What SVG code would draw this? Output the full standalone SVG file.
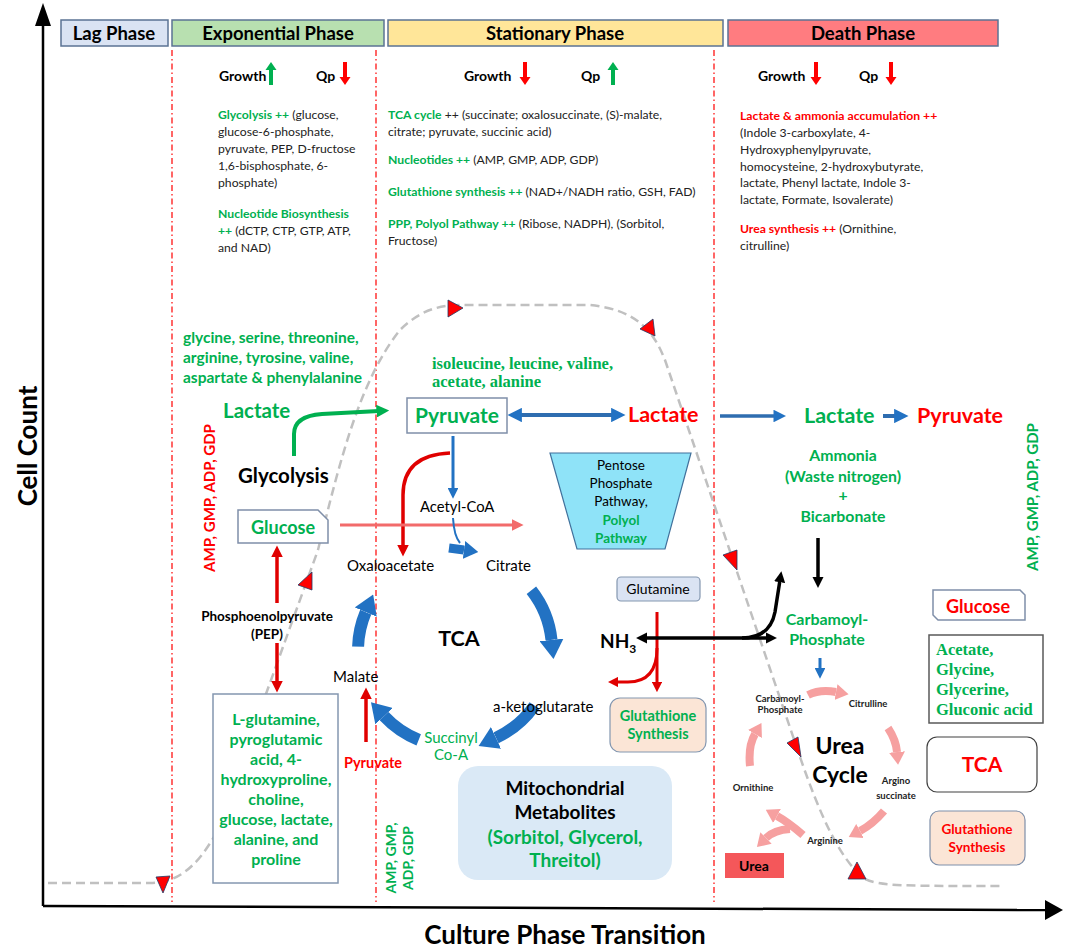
<svg xmlns="http://www.w3.org/2000/svg" width="1065" height="948" viewBox="0 0 1065 948" style="font-family:Lato,'Liberation Sans',sans-serif">
<style>
.ph{font-size:12.2px;fill:#222}
.b{font-weight:bold}
.g{fill:#00b050}
.r{fill:#ff0000}
.k{fill:#000}
.s{font-family:'Liberation Serif','Times New Roman',serif;font-weight:bold;fill:#00b050}
.hdr{stroke:#5b7394;stroke-width:1.5}
.ht{font-size:18.5px;font-weight:bold;text-anchor:middle}
.vl{stroke:#ff0000;stroke-width:1.2;stroke-dasharray:6 3 1.5 3;fill:none}
.curve{fill:none;stroke:#c0c0c0;stroke-width:2.5;stroke-dasharray:9 5}
.tri{fill:#ff0000;stroke:#1f3864;stroke-width:0.8}
.tca{fill:none;stroke:#2272c3;stroke-width:12}
.urea{fill:none;stroke:#f6a0a0;stroke-width:8}
.uc{font-size:9.5px;font-weight:bold;fill:#222;text-anchor:middle}
.c{text-anchor:middle}
.gr{font-size:14px;font-weight:bold}
</style>
<defs>
<marker id="mR" viewBox="0 0 10 10" refX="2" refY="5" markerWidth="3.4" markerHeight="3.4" orient="auto-start-reverse"><path d="M0,0 L10,5 L0,10 z" fill="#e00000"/></marker>
<marker id="mS" viewBox="0 0 10 10" refX="2" refY="5" markerWidth="4" markerHeight="4" orient="auto"><path d="M0,0 L10,5 L0,10 z" fill="#f26b6b"/></marker>
<marker id="mG" viewBox="0 0 10 10" refX="2" refY="5" markerWidth="3.2" markerHeight="3.2" orient="auto"><path d="M0,0 L10,5 L0,10 z" fill="#00b050"/></marker>
<marker id="mB" viewBox="0 0 10 10" refX="2" refY="5" markerWidth="3.6" markerHeight="3.6" orient="auto-start-reverse"><path d="M0,0 L10,5 L0,10 z" fill="#2272c3"/></marker>
<marker id="mK" viewBox="0 0 10 10" refX="2" refY="5" markerWidth="3.2" markerHeight="3.2" orient="auto-start-reverse"><path d="M0,0 L10,5 L0,10 z" fill="#000"/></marker>
<marker id="mT" viewBox="0 0 8 10" refX="0" refY="5" markerWidth="1.6" markerHeight="2" orient="auto"><path d="M0,0 L8,5 L0,10 z" fill="#2272c3"/></marker>
<marker id="mP" viewBox="0 0 8 10" refX="0" refY="5" markerWidth="1.6" markerHeight="2.1" orient="auto"><path d="M0,0 L8,5 L0,10 z" fill="#f6a0a0"/></marker>
<path id="aDn" d="M-2,0 H2 V15 H5.5 L0,23 L-5.5,15 H-2 Z"/>
<path id="aUp" d="M-2,23 H2 V8 H5.5 L0,0 L-5.5,8 H-2 Z"/>
</defs>
<rect width="1065" height="948" fill="#fff"/>

<g id="axes">
<line x1="43" y1="906" x2="43" y2="22" stroke="#000" stroke-width="2.5"/>
<polygon points="35,26 43,3 51,26" fill="#000"/>
<line x1="43" y1="906" x2="1046" y2="910" stroke="#000" stroke-width="2.5"/>
<polygon points="1045,900 1063,910 1045,920" fill="#000"/>
<text class="b" font-size="26" transform="translate(37,446) rotate(-90)" text-anchor="middle">Cell Count</text>
<text class="b c" font-size="26" x="565" y="944">Culture Phase Transition</text>
</g>

<g id="phase-lines">
<line class="vl" x1="172" y1="50" x2="172" y2="902"/>
<line class="vl" x1="376" y1="50" x2="376" y2="902"/>
<line class="vl" x1="714" y1="50" x2="714" y2="902"/>
</g>

<g id="headers">
<rect class="hdr" x="61" y="20" width="107" height="26" fill="#dae3f3"/>
<text class="ht" x="114" y="39.5">Lag Phase</text>
<rect class="hdr" x="172" y="20" width="212" height="26" fill="#b8e0b0"/>
<text class="ht" x="278" y="39.5">Exponential Phase</text>
<rect class="hdr" x="388" y="20" width="335" height="26" fill="#ffe699"/>
<text class="ht" x="555" y="39.5">Stationary Phase</text>
<rect class="hdr" x="728" y="20" width="270" height="26" fill="#ff7c80"/>
<text class="ht" x="863" y="39.5">Death Phase</text>
</g>

<g id="exp-text">
<text class="gr" x="219" y="81">Growth</text>
<use href="#aUp" x="271" y="62" fill="#00b050"/>
<text class="gr" x="316" y="81">Qp</text>
<use href="#aDn" x="345" y="62" fill="#ff0000"/>
<text class="ph" x="218" y="119"><tspan class="b g">Glycolysis ++</tspan> (glucose,</text>
<text class="ph" x="218" y="136">glucose-6-phosphate,</text>
<text class="ph" x="218" y="153">pyruvate, PEP, D-fructose</text>
<text class="ph" x="218" y="170">1,6-bisphosphate,  6-</text>
<text class="ph" x="218" y="187">phosphate)</text>
<text class="ph b g" x="218" y="218">Nucleotide Biosynthesis</text>
<text class="ph" x="218" y="235"><tspan class="b g">++</tspan> (dCTP, CTP, GTP, ATP,</text>
<text class="ph" x="218" y="252">and NAD)</text>
</g>

<g id="stat-text">
<text class="gr" x="464" y="81">Growth</text>
<use href="#aDn" x="525" y="62" fill="#ff0000"/>
<text class="gr" x="581" y="81">Qp</text>
<use href="#aUp" x="613" y="62" fill="#00b050"/>
<text class="ph" x="388" y="119"><tspan class="b g">TCA cycle</tspan> ++ (succinate; oxalosuccinate, (S)-malate,</text>
<text class="ph" x="388" y="136">citrate; pyruvate, succinic acid)</text>
<text class="ph" x="388" y="164"><tspan class="b g">Nucleotides ++</tspan>  (AMP, GMP, ADP, GDP)</text>
<text class="ph" x="388" y="196"><tspan class="b g">Glutathione synthesis ++</tspan> (NAD+/NADH  ratio, GSH, FAD)</text>
<text class="ph" x="388" y="228"><tspan class="b g">PPP, Polyol Pathway ++</tspan> (Ribose, NADPH), (Sorbitol,</text>
<text class="ph" x="388" y="245">Fructose)</text>
</g>

<g id="death-text">
<text class="gr" x="758" y="81">Growth</text>
<use href="#aDn" x="816" y="62" fill="#ff0000"/>
<text class="gr" x="859" y="81">Qp</text>
<use href="#aDn" x="891" y="62" fill="#ff0000"/>
<text class="ph b r" x="740" y="120">Lactate &amp; ammonia accumulation ++</text>
<text class="ph" x="740" y="137">(Indole 3-carboxylate, 4-</text>
<text class="ph" x="740" y="154">Hydroxyphenylpyruvate,</text>
<text class="ph" x="740" y="171">homocysteine,  2-hydroxybutyrate,</text>
<text class="ph" x="740" y="187">lactate, Phenyl lactate, Indole 3-</text>
<text class="ph" x="740" y="204">lactate, Formate, Isovalerate)</text>
<text class="ph" x="740" y="233"><tspan class="b r">Urea synthesis ++</tspan> (Ornithine,</text>
<text class="ph" x="740" y="250">citrulline)</text>
</g>

<g id="growth-curve">
<path class="curve" d="M48 883 L150 883 C175 883 195 870 215 835 L318 550 C340 460 360 380 400 330 C420 310 440 305 460 305 L590 305 C640 310 655 335 665 360 L800 757 C820 815 840 860 865 879 C880 886 900 886 1003 886"/>
<polygon class="tri" points="156,877 170,876 163,893"/>
<polygon class="tri" points="312,572 312,590 298,585"/>
<polygon class="tri" points="448,300 448,317 463,308"/>
<polygon class="tri" points="640,329 653,319 655,336"/>
<polygon class="tri" points="723,555 737,550 737,570"/>
<polygon class="tri" points="787,743 798,737 801,757"/>
<polygon class="tri" points="848,879 857,862 866,879"/>
</g>

<g id="connectors">
<path d="M294 456 L294 434 Q294 416 322 414 L379 411" fill="none" stroke="#00b050" stroke-width="4" marker-end="url(#mG)"/>
<line x1="519" y1="415" x2="614" y2="415" stroke="#2e6db0" stroke-width="4" marker-start="url(#mB)" marker-end="url(#mB)"/>
<line x1="720" y1="416" x2="776" y2="416" stroke="#2e6db0" stroke-width="3.5" marker-end="url(#mB)"/>
<line x1="883" y1="416" x2="897" y2="416" stroke="#2e6db0" stroke-width="4" marker-end="url(#mB)"/>
<line x1="453" y1="436" x2="453" y2="490" stroke="#2272c3" stroke-width="3" marker-end="url(#mB)"/>
<path d="M450 453 Q403 455 403 495 L403 547" fill="none" stroke="#e00000" stroke-width="3.5" marker-end="url(#mR)"/>
<line x1="340" y1="525" x2="514" y2="525" stroke="#f26b6b" stroke-width="3" marker-end="url(#mS)"/>
<path d="M453 518 Q454 536 460 543" fill="none" stroke="#2272c3" stroke-width="2"/>
<path d="M449 548 L464 550" fill="none" stroke="#2272c3" stroke-width="9" marker-end="url(#mT)"/>
<path class="tca" d="M531.4 590.2 A97 97 0 0 1 551.5 639.9" marker-end="url(#mT)"/>
<path class="tca" d="M534.5 705.6 A97 97 0 0 1 496 737.9" marker-end="url(#mT)"/>
<path class="tca" d="M418.7 739.9 A97 97 0 0 1 384.1 716.2" marker-end="url(#mT)"/>
<path class="tca" d="M358.1 646.6 A97 97 0 0 1 365.7 612.1" marker-end="url(#mT)"/>
<line x1="277" y1="603" x2="277" y2="555" stroke="#e00000" stroke-width="3.5" marker-end="url(#mR)"/>
<line x1="277" y1="643" x2="277" y2="683" stroke="#e00000" stroke-width="3.5" marker-end="url(#mR)"/>
<line x1="366" y1="742" x2="366" y2="697" stroke="#e00000" stroke-width="3.5" marker-end="url(#mR)"/>
<line x1="657" y1="612" x2="657" y2="684" stroke="#e00000" stroke-width="3" marker-end="url(#mR)"/>
<path d="M657 648 Q657 682 628 682 L616 682" fill="none" stroke="#e00000" stroke-width="3" marker-end="url(#mR)"/>
<line x1="645" y1="638" x2="768" y2="638" stroke="#000" stroke-width="3.5" marker-start="url(#mK)" marker-end="url(#mK)"/>
<path d="M742 638 Q770 638 775 612 L780 580" fill="none" stroke="#000" stroke-width="3.5" marker-end="url(#mK)"/>
<line x1="818" y1="538" x2="818" y2="579" stroke="#000" stroke-width="3.5" marker-end="url(#mK)"/>
<line x1="820" y1="658" x2="820" y2="670" stroke="#2272c3" stroke-width="3" marker-end="url(#mB)"/>
<path class="urea" d="M808 695 Q820 689 836 692" marker-end="url(#mP)"/>
<path class="urea" d="M888 728 Q896 740 897 752" marker-end="url(#mP)"/>
<path class="urea" d="M884 811 Q873 824 860 831" marker-end="url(#mP)"/>
<path class="urea" d="M803 835 Q788 822 777 816" marker-end="url(#mP)"/>
<path class="urea" d="M790 829 Q774 830 766 838" marker-end="url(#mP)"/>
<path class="urea" d="M750 766 Q748 746 755 734" marker-end="url(#mP)"/>
</g>

<g id="amino-exp">
<text class="b g" font-size="15.5" x="183" y="343">glycine, serine, threonine,</text>
<text class="b g" font-size="15.5" x="183" y="363">arginine, tyrosine, valine,</text>
<text class="b g" font-size="15.5" x="183" y="383">aspartate &amp; phenylalanine</text>
</g>
<g id="lactate-left"><text class="b g" font-size="20.5" x="223" y="418">Lactate</text></g>
<g id="glycolysis"><text class="b k" font-size="20.5" x="238" y="483">Glycolysis</text></g>
<g id="glucose-left">
<path d="M238 510 H318 L328 520 V543 H238 Z" fill="#fff" stroke="#7f8fa9" stroke-width="1.5"/>
<text class="b g c" font-size="18" x="283" y="534">Glucose</text>
</g>
<g id="amp-left"><text class="b r c" font-size="15" transform="translate(215,498) rotate(-90)">AMP, GMP, ADP, GDP</text></g>
<g id="pep">
<text class="b k c" font-size="13.5" x="267" y="621">Phosphoenolpyruvate</text>
<text class="b k c" font-size="13.5" x="267" y="639">(PEP)</text>
</g>
<g id="lglut">
<rect x="213" y="694" width="125" height="189" fill="#fff" stroke="#8497b0" stroke-width="1.5"/>
<text class="b g c" font-size="16" x="276" y="725">L-glutamine,</text>
<text class="b g c" font-size="16" x="276" y="745">pyroglutamic</text>
<text class="b g c" font-size="16" x="276" y="765">acid, 4-</text>
<text class="b g c" font-size="16" x="276" y="785">hydroxyproline,</text>
<text class="b g c" font-size="16" x="276" y="805">choline,</text>
<text class="b g c" font-size="16" x="276" y="825">glucose, lactate,</text>
<text class="b g c" font-size="16" x="276" y="845">alanine, and</text>
<text class="b g c" font-size="16" x="276" y="865">proline</text>
</g>
<g id="amp-bottom">
<text class="b g c" font-size="14" transform="translate(396,858) rotate(-90)">AMP, GMP,</text>
<text class="b g c" font-size="14" transform="translate(413,858) rotate(-90)">ADP, GDP</text>
</g>
<g id="amino-stat">
<text class="s" font-size="16.5" x="432" y="369">isoleucine,  leucine, valine,</text>
<text class="s" font-size="16.5" x="432" y="387">acetate, alanine</text>
</g>
<g id="pyruvate">
<rect x="407" y="398" width="100" height="35" fill="#fff" stroke="#7f8fa9" stroke-width="1.5"/>
<text class="b g c" font-size="21" x="457" y="423">Pyruvate</text>
</g>
<g id="lactate-mid"><text class="b r" font-size="21.5" x="628" y="422">Lactate</text></g>
<g id="lactate-right"><text class="b g" font-size="21.5" x="804" y="423">Lactate</text></g>
<g id="pyruvate-right"><text class="b r" font-size="21.5" x="917" y="423">Pyruvate</text></g>
<g id="acetyl"><text class="k" font-size="14.8" x="420" y="512">Acetyl-CoA</text></g>
<g id="ppp">
<polygon points="550,453 691,453 665,549 577,549" fill="#8fe3f8" stroke="#41719c" stroke-width="1.2"/>
<text class="k c" font-size="13.5" x="621" y="470">Pentose</text>
<text class="k c" font-size="13.5" x="621" y="488">Phosphate</text>
<text class="k c" font-size="13.5" x="621" y="506">Pathway,</text>
<text class="b g c" font-size="13.5" x="621" y="525">Polyol</text>
<text class="b g c" font-size="13.5" x="621" y="543">Pathway</text>
</g>
<g id="oxalo"><text class="k" font-size="15" x="347" y="571">Oxaloacetate</text></g>
<g id="citrate"><text class="k" font-size="15" x="486" y="571">Citrate</text></g>
<g id="tca-label"><text class="b k c" font-size="21.5" x="459" y="646">TCA</text></g>
<g id="malate"><text class="k" font-size="15" x="333" y="682">Malate</text></g>
<g id="akg"><text class="k" font-size="15" x="493" y="712">a-ketoglutarate</text></g>
<g id="succinyl">
<text class="g c" font-size="15" x="451" y="743">Succinyl</text>
<text class="g c" font-size="15" x="451" y="760">Co-A</text>
</g>
<g id="pyruvate-small"><text class="b r c" font-size="14.5" x="373" y="768">Pyruvate</text></g>
<g id="mito">
<rect x="458" y="766" width="214" height="114" rx="20" fill="#dae9f6"/>
<text class="b k c" font-size="19" x="565" y="795">Mitochondrial</text>
<text class="b k c" font-size="19" x="565" y="819">Metabolites</text>
<text class="b g c" font-size="19" x="565" y="844">(Sorbitol, Glycerol,</text>
<text class="b g c" font-size="19" x="565" y="867">Threitol)</text>
</g>
<g id="glutamine">
<rect x="617" y="577" width="83" height="24" rx="4" fill="#dae3f3" stroke="#8497b0" stroke-width="1.2"/>
<text class="k c" font-size="14" x="658" y="594">Glutamine</text>
</g>
<g id="nh3"><text class="b k" font-size="19" x="600" y="648">NH<tspan font-size="12" dy="5">3</tspan></text></g>
<g id="glut-mid">
<rect x="610" y="698" width="96" height="54" rx="10" fill="#fbe5d6" stroke="#8497b0" stroke-width="1.2"/>
<text class="b g c" font-size="14.5" x="658" y="721">Glutathione</text>
<text class="b g c" font-size="14.5" x="658" y="739">Synthesis</text>
</g>
<g id="ammonia">
<text class="b g c" font-size="15.8" x="843" y="461">Ammonia</text>
<text class="b g c" font-size="15.8" x="843" y="482">(Waste nitrogen)</text>
<text class="b g c" font-size="15.8" x="843" y="501">+</text>
<text class="b g c" font-size="15.8" x="843" y="522">Bicarbonate</text>
</g>
<g id="amp-right"><text class="b g c" font-size="15" transform="translate(1038,497) rotate(-90)">AMP, GMP, ADP, GDP</text></g>
<g id="carbamoyl">
<text class="b g c" font-size="16" x="827" y="625">Carbamoyl-</text>
<text class="b g c" font-size="16" x="827" y="645">Phosphate</text>
</g>
<g id="urea-cycle">
<text class="uc" x="780" y="702">Carbamoyl-</text>
<text class="uc" x="780" y="713">Phosphate</text>
<text class="uc" x="868" y="707">Citrulline</text>
<text class="uc" x="896" y="784">Argino</text>
<text class="uc" x="896" y="799">succinate</text>
<text class="uc" x="825" y="844">Arginine</text>
<text class="uc" x="753" y="791">Ornithine</text>
<text class="b k c" font-size="23" x="840" y="754">Urea</text>
<text class="b k c" font-size="23" x="840" y="783">Cycle</text>
</g>
<g id="urea-box">
<rect x="725" y="853" width="59" height="25" fill="#f4575a"/>
<text class="b k c" font-size="14" x="754" y="871">Urea</text>
</g>
<g id="glucose-right">
<path d="M933 590 H1020 L1025 595 V620 H938 L933 615 Z" fill="#fff" stroke="#7f8fa9" stroke-width="1.5"/>
<text class="b r c" font-size="18" x="978" y="613">Glucose</text>
</g>
<g id="acetate-box">
<rect x="929" y="635" width="114" height="88" fill="#fff" stroke="#595959" stroke-width="1.5"/>
<text class="s" font-size="16.5" x="936" y="655">Acetate,</text>
<text class="s" font-size="16.5" x="936" y="675">Glycine,</text>
<text class="s" font-size="16.5" x="936" y="695">Glycerine,</text>
<text class="s" font-size="16.5" x="936" y="715">Gluconic acid</text>
</g>
<g id="tca-box">
<rect x="927" y="737" width="110" height="55" rx="10" fill="#fff" stroke="#404040" stroke-width="1.2"/>
<text class="b r c" font-size="21" x="982" y="772">TCA</text>
</g>
<g id="glut-right">
<rect x="930" y="811" width="95" height="54" rx="9" fill="#fbe5d6" stroke="#7f8fa9" stroke-width="1.2"/>
<text class="b r c" font-size="13.5" x="977" y="834">Glutathione</text>
<text class="b r c" font-size="13.5" x="977" y="852">Synthesis</text>
</g>
</svg>
